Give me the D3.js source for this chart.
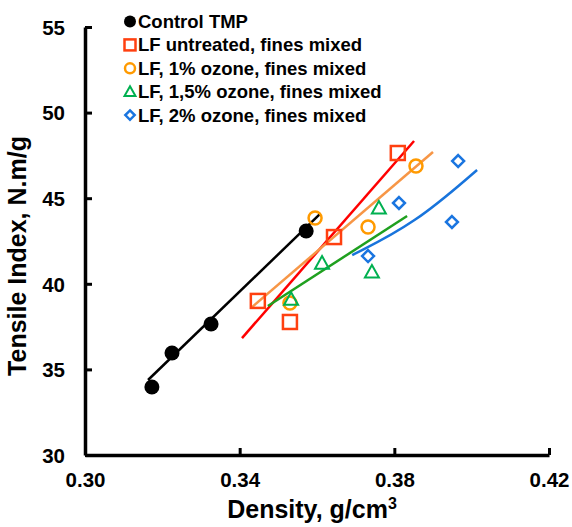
<!DOCTYPE html>
<html>
<head>
<meta charset="utf-8">
<script src="https://cdn.jsdelivr.net/npm/d3@7"></script>
<style>
  body { margin: 0; background: #fff; }
  text { font-family: "Liberation Sans", Arial, sans-serif; font-weight: bold; fill: #000; }
</style>
</head>
<body>
<svg id="svg" width="572" height="527"></svg>
<script>
// Series names, in legend order
const seriesNames = [
  "Control TMP",
  "LF untreated, fines mixed",
  "LF, 1% ozone, fines mixed",
  "LF, 1,5% ozone, fines mixed",
  "LF, 2% ozone, fines mixed"
];

// Measured points (density g/cm3, tensile index N.m/g)
const controlDensity = [0.3173, 0.3225, 0.3326, 0.3572];
const controlTensile = [33.97, 35.96, 37.65, 43.08];

const untreatedDensity = [0.3447, 0.3530, 0.3644, 0.3809];
const untreatedTensile = [39.0, 37.77, 42.73, 47.64];

const ozone1Density = [0.3530, 0.3595, 0.3732, 0.3856];
const ozone1Tensile = [38.88, 43.84, 43.32, 46.88];

const ozone15Density = [0.3533, 0.3613, 0.3742, 0.3760];
const ozone15Tensile = [39.1, 41.21, 40.69, 44.43];

const ozone2Density = [0.3732, 0.3812, 0.3949, 0.3965];
const ozone2Tensile = [41.62, 44.72, 43.61, 47.17];

// Trend lines
const controlTrendX = [0.3163, 0.3608];
const controlTrendY = [34.38, 44.08];
const untreatedTrendX = [0.3406, 0.3851];
const untreatedTrendY = [36.83, 48.34];
const ozone1TrendX = [0.3432, 0.3900];
const ozone1TrendY = [38.64, 47.70];
const ozone15TrendX = [0.3473, 0.3833];
const ozone15TrendY = [38.70, 43.96];
const ozone2TrendX = [0.3691, 0.3852, 0.4014];
const ozone2TrendY = [41.68, 43.5, 46.65];

// Axis ticks
const xTicks = [0.30, 0.34, 0.38, 0.42];
const yTicks = [30, 35, 40, 45, 50, 55];

const markerColors = ["#000000", "#FF4010", "#FF9A00", "#00B050", "#1A75E0"];
const lineColors = ["#000000", "#FF0000", "#F79646", "#1FA01F", "#1874DC"];
const shapes = ["dot", "square", "circle", "triangle", "diamond"];

const zip = (xs, ys) => xs.map((x, i) => ({ x: x, y: ys[i] }));

const series = [
  { pts: zip(controlDensity, controlTensile), trend: zip(controlTrendX, controlTrendY) },
  { pts: zip(untreatedDensity, untreatedTensile), trend: zip(untreatedTrendX, untreatedTrendY) },
  { pts: zip(ozone1Density, ozone1Tensile), trend: zip(ozone1TrendX, ozone1TrendY) },
  { pts: zip(ozone15Density, ozone15Tensile), trend: zip(ozone15TrendX, ozone15TrendY) },
  { pts: zip(ozone2Density, ozone2Tensile), trend: zip(ozone2TrendX, ozone2TrendY) }
];
series.forEach((s, i) => {
  s.name = seriesNames[i];
  s.shape = shapes[i];
  s.color = markerColors[i];
  s.lineColor = lineColors[i];
});

const attr = {
  left: 85,
  right: 549,
  top: 27,
  bottom: 455
};

const svg = d3.select("svg#svg");

const x = d3.scaleLinear().domain([0.30, 0.42]).range([attr.left, attr.right]);
const y = d3.scaleLinear().domain([30, 55]).range([attr.bottom, attr.top]);

var translate = function(a, b) {
  return "translate(" + a + "," + b + ")";
};

// Axes, ticks pointing inside
const xAxis = svg.append("g")
  .attr("transform", translate(0, attr.bottom))
  .call(d3.axisBottom(x).tickValues(xTicks).tickFormat(d3.format(".2f")).tickSizeInner(-7).tickSizeOuter(0).tickPadding(17));

const yAxis = svg.append("g")
  .attr("transform", translate(attr.left, 0))
  .call(d3.axisLeft(y).tickValues(yTicks).tickSizeInner(-7).tickSizeOuter(0).tickPadding(27));

[xAxis, yAxis].forEach(function(a) {
  a.select(".domain").attr("stroke", "#000").attr("stroke-width", 3.5);
  a.selectAll(".tick line").attr("stroke", "#000").attr("stroke-width", 3);
  a.selectAll(".tick text")
    .style("font-family", "'Liberation Sans', Arial, sans-serif")
    .style("font-weight", "bold")
    .style("font-size", "20.5px")
    .attr("fill", "#000");
});
yAxis.selectAll(".tick text").attr("dy", "0.36em").attr("x", -20);
xAxis.selectAll(".tick text").attr("dy", "0.71em");

// Axis titles
svg.append("text")
  .attr("x", 312)
  .attr("y", 518)
  .attr("text-anchor", "middle")
  .style("font-size", "25px")
  .html("Density, g/cm<tspan dy='-9' style='font-size:16px'>3</tspan>");

svg.append("text")
  .attr("transform", translate(26, 256) + " rotate(-90)")
  .attr("text-anchor", "middle")
  .style("font-size", "25px")
  .text("Tensile Index, N.m/g");

// Trend lines
const line = d3.line().x(d => x(d.x)).y(d => y(d.y)).curve(d3.curveBasis);

svg.append("g").selectAll("path.trend")
  .data(series)
  .enter()
  .append("path")
  .attr("class", "trend")
  .attr("d", d => line(d.trend))
  .attr("fill", "none")
  .attr("stroke", d => d.lineColor)
  .attr("stroke-width", 2.5);

// Marker drawing
var drawMarker = function(g, shape, color, size) {
  const h = size / 2;
  if (shape === "dot") {
    g.append("circle").attr("r", h + 0.5).attr("fill", color);
  } else if (shape === "square") {
    g.append("rect").attr("x", -h).attr("y", -h).attr("width", size).attr("height", size)
      .attr("fill", "none").attr("stroke", color).attr("stroke-width", 2.5);
  } else if (shape === "circle") {
    g.append("circle").attr("r", h - 0.5).attr("fill", "none").attr("stroke", color).attr("stroke-width", 2.5);
  } else if (shape === "triangle") {
    g.append("path")
      .attr("d", "M0," + (-h) + "L" + (h) + "," + (h * 0.8) + "L" + (-h) + "," + (h * 0.8) + "Z")
      .attr("fill", "none").attr("stroke", color).attr("stroke-width", 2);
  } else if (shape === "diamond") {
    const r = h * 0.85;
    g.append("path")
      .attr("d", "M0," + (-r) + "L" + r + ",0L0," + r + "L" + (-r) + ",0Z")
      .attr("fill", "none").attr("stroke", color).attr("stroke-width", 2.5);
  }
};

// Points
series.forEach(function(s) {
  const pts = svg.append("g").selectAll("g.pt")
    .data(s.pts)
    .enter()
    .append("g")
    .attr("class", "pt")
    .attr("transform", d => translate(x(d.x), y(d.y)));
  pts.each(function() {
    drawMarker(d3.select(this), s.shape, s.color, 14);
  });
});

// Legend
const legend = svg.append("g").selectAll("g.legend")
  .data(series)
  .enter()
  .append("g")
  .attr("class", "legend")
  .attr("transform", (d, i) => translate(130, 21.5 + i * 23.4));

legend.each(function(d) {
  drawMarker(d3.select(this), d.shape, d.color, 11);
});

legend.append("text")
  .attr("x", 8)
  .attr("y", 6.5)
  .style("font-size", "18.5px")
  .text(d => d.name);
</script>
</body>
</html>
